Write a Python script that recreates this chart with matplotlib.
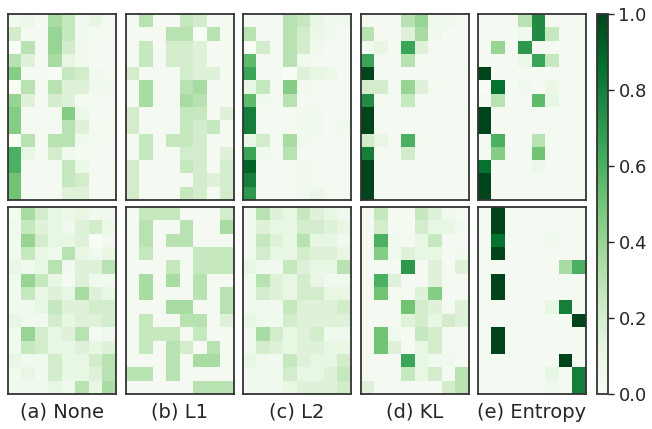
import numpy as np
import matplotlib
matplotlib.use("Agg")
import matplotlib.pyplot as plt

labels = ["(a) None", "(b) L1", "(c) L2", "(d) KL", "(e) Entropy"]
cbar_ticks = [0.0, 0.2, 0.4, 0.6, 0.8, 1.0]

none_top = [
    [0.05, 0.08, 0.02, 0.35, 0.25, 0.05, 0.10, 0.03],
    [0.20, 0.03, 0.02, 0.40, 0.25, 0.05, 0.03, 0.02],
    [0.00, 0.30, 0.02, 0.40, 0.20, 0.05, 0.02, 0.02],
    [0.30, 0.15, 0.02, 0.35, 0.10, 0.05, 0.02, 0.02],
    [0.45, 0.02, 0.02, 0.00, 0.25, 0.20, 0.05, 0.02],
    [0.00, 0.30, 0.02, 0.30, 0.15, 0.15, 0.05, 0.05],
    [0.40, 0.15, 0.02, 0.20, 0.15, 0.03, 0.02, 0.02],
    [0.45, 0.02, 0.02, 0.02, 0.45, 0.08, 0.02, 0.02],
    [0.45, 0.02, 0.02, 0.02, 0.30, 0.15, 0.03, 0.02],
    [0.00, 0.30, 0.02, 0.30, 0.30, 0.05, 0.03, 0.02],
    [0.60, 0.10, 0.02, 0.20, 0.05, 0.03, 0.02, 0.02],
    [0.60, 0.02, 0.02, 0.02, 0.25, 0.08, 0.02, 0.02],
    [0.50, 0.02, 0.02, 0.02, 0.25, 0.20, 0.02, 0.02],
    [0.50, 0.02, 0.02, 0.02, 0.15, 0.15, 0.02, 0.02],
]
l1_top = [
    [0.02, 0.30, 0.02, 0.02, 0.25, 0.20, 0.02, 0.02],
    [0.02, 0.02, 0.02, 0.30, 0.30, 0.00, 0.30, 0.02],
    [0.02, 0.25, 0.02, 0.20, 0.20, 0.15, 0.02, 0.02],
    [0.02, 0.25, 0.02, 0.20, 0.20, 0.15, 0.02, 0.02],
    [0.20, 0.02, 0.02, 0.02, 0.20, 0.15, 0.15, 0.02],
    [0.02, 0.35, 0.02, 0.02, 0.30, 0.35, 0.02, 0.02],
    [0.02, 0.35, 0.02, 0.02, 0.35, 0.30, 0.02, 0.02],
    [0.20, 0.02, 0.02, 0.02, 0.25, 0.25, 0.02, 0.15],
    [0.20, 0.02, 0.02, 0.02, 0.25, 0.20, 0.25, 0.02],
    [0.02, 0.25, 0.02, 0.25, 0.25, 0.20, 0.02, 0.02],
    [0.02, 0.25, 0.02, 0.02, 0.20, 0.20, 0.02, 0.15],
    [0.20, 0.02, 0.02, 0.02, 0.25, 0.20, 0.02, 0.20],
    [0.20, 0.02, 0.02, 0.02, 0.02, 0.20, 0.15, 0.20],
    [0.20, 0.02, 0.02, 0.02, 0.25, 0.20, 0.02, 0.20],
]
l2_top = [
    [0.02, 0.02, 0.02, 0.30, 0.25, 0.10, 0.05, 0.05],
    [0.30, 0.02, 0.02, 0.30, 0.20, 0.08, 0.05, 0.02],
    [0.00, 0.20, 0.02, 0.30, 0.20, 0.05, 0.02, 0.02],
    [0.55, 0.02, 0.02, 0.30, 0.05, 0.02, 0.02, 0.02],
    [0.65, 0.02, 0.02, 0.00, 0.15, 0.10, 0.08, 0.02],
    [0.10, 0.25, 0.02, 0.45, 0.05, 0.02, 0.02, 0.02],
    [0.55, 0.05, 0.02, 0.30, 0.02, 0.02, 0.02, 0.02],
    [0.80, 0.02, 0.02, 0.02, 0.05, 0.05, 0.02, 0.02],
    [0.80, 0.02, 0.02, 0.02, 0.05, 0.05, 0.02, 0.05],
    [0.10, 0.20, 0.02, 0.35, 0.05, 0.02, 0.02, 0.02],
    [0.65, 0.05, 0.02, 0.30, 0.02, 0.02, 0.02, 0.02],
    [0.90, 0.02, 0.02, 0.02, 0.05, 0.02, 0.02, 0.02],
    [0.80, 0.02, 0.02, 0.02, 0.05, 0.02, 0.02, 0.02],
    [0.70, 0.02, 0.02, 0.02, 0.05, 0.08, 0.02, 0.02],
]
kl_top = [
    [0.02, 0.02, 0.02, 0.30, 0.40, 0.05, 0.05, 0.02],
    [0.30, 0.02, 0.02, 0.15, 0.35, 0.05, 0.02, 0.02],
    [0.03, 0.10, 0.02, 0.65, 0.15, 0.02, 0.02, 0.02],
    [0.65, 0.02, 0.02, 0.30, 0.03, 0.02, 0.02, 0.02],
    [1.00, 0.02, 0.02, 0.02, 0.02, 0.02, 0.02, 0.02],
    [0.20, 0.20, 0.02, 0.40, 0.15, 0.03, 0.02, 0.02],
    [0.75, 0.02, 0.02, 0.25, 0.02, 0.02, 0.02, 0.02],
    [1.00, 0.02, 0.02, 0.02, 0.02, 0.02, 0.02, 0.02],
    [1.00, 0.02, 0.02, 0.02, 0.02, 0.02, 0.02, 0.02],
    [0.20, 0.10, 0.02, 0.60, 0.03, 0.02, 0.02, 0.02],
    [0.80, 0.02, 0.02, 0.20, 0.02, 0.02, 0.02, 0.02],
    [1.00, 0.02, 0.02, 0.02, 0.02, 0.02, 0.02, 0.02],
    [1.00, 0.02, 0.02, 0.02, 0.02, 0.02, 0.02, 0.02],
    [1.00, 0.02, 0.02, 0.02, 0.02, 0.02, 0.02, 0.02],
]
ent_top = [
    [0.02, 0.02, 0.02, 0.30, 0.75, 0.02, 0.02, 0.02],
    [0.02, 0.02, 0.02, 0.05, 0.75, 0.25, 0.02, 0.02],
    [0.02, 0.40, 0.02, 0.70, 0.02, 0.02, 0.02, 0.02],
    [0.02, 0.02, 0.02, 0.08, 0.65, 0.25, 0.02, 0.02],
    [1.00, 0.02, 0.02, 0.02, 0.02, 0.02, 0.02, 0.02],
    [0.00, 0.85, 0.02, 0.05, 0.02, 0.08, 0.02, 0.02],
    [0.02, 0.30, 0.02, 0.02, 0.55, 0.10, 0.02, 0.02],
    [1.00, 0.02, 0.02, 0.02, 0.02, 0.02, 0.02, 0.02],
    [1.00, 0.02, 0.02, 0.02, 0.02, 0.02, 0.02, 0.02],
    [0.02, 0.60, 0.02, 0.02, 0.30, 0.03, 0.02, 0.02],
    [0.02, 0.45, 0.02, 0.02, 0.50, 0.02, 0.02, 0.02],
    [0.85, 0.02, 0.02, 0.02, 0.08, 0.02, 0.02, 0.02],
    [1.00, 0.02, 0.02, 0.02, 0.02, 0.02, 0.02, 0.02],
    [1.00, 0.02, 0.02, 0.02, 0.02, 0.02, 0.02, 0.02],
]

none_bot = [
    [0.03, 0.35, 0.20, 0.10, 0.08, 0.10, 0.05, 0.05],
    [0.05, 0.25, 0.15, 0.10, 0.05, 0.15, 0.20, 0.08],
    [0.05, 0.40, 0.20, 0.10, 0.10, 0.15, 0.00, 0.05],
    [0.05, 0.25, 0.10, 0.05, 0.30, 0.10, 0.05, 0.10],
    [0.10, 0.05, 0.10, 0.30, 0.05, 0.15, 0.15, 0.30],
    [0.05, 0.40, 0.25, 0.10, 0.02, 0.15, 0.05, 0.05],
    [0.05, 0.25, 0.10, 0.15, 0.10, 0.35, 0.15, 0.10],
    [0.05, 0.05, 0.10, 0.25, 0.15, 0.15, 0.20, 0.20],
    [0.10, 0.05, 0.05, 0.20, 0.10, 0.15, 0.15, 0.20],
    [0.05, 0.40, 0.20, 0.10, 0.15, 0.30, 0.02, 0.05],
    [0.05, 0.25, 0.20, 0.10, 0.10, 0.15, 0.10, 0.15],
    [0.10, 0.05, 0.05, 0.20, 0.10, 0.10, 0.20, 0.30],
    [0.05, 0.10, 0.05, 0.20, 0.10, 0.10, 0.15, 0.30],
    [0.05, 0.05, 0.05, 0.10, 0.05, 0.30, 0.10, 0.35],
]
l1_bot = [
    [0.02, 0.25, 0.25, 0.25, 0.02, 0.02, 0.02, 0.20],
    [0.02, 0.30, 0.02, 0.02, 0.30, 0.02, 0.02, 0.35],
    [0.02, 0.30, 0.02, 0.30, 0.30, 0.02, 0.02, 0.02],
    [0.02, 0.25, 0.02, 0.02, 0.02, 0.25, 0.25, 0.25],
    [0.02, 0.02, 0.02, 0.25, 0.02, 0.25, 0.25, 0.25],
    [0.02, 0.35, 0.02, 0.35, 0.02, 0.30, 0.02, 0.02],
    [0.02, 0.35, 0.02, 0.02, 0.02, 0.30, 0.02, 0.30],
    [0.02, 0.02, 0.02, 0.35, 0.35, 0.02, 0.02, 0.30],
    [0.02, 0.25, 0.02, 0.02, 0.30, 0.30, 0.02, 0.15],
    [0.02, 0.25, 0.25, 0.25, 0.02, 0.25, 0.02, 0.02],
    [0.02, 0.25, 0.02, 0.30, 0.20, 0.02, 0.30, 0.02],
    [0.02, 0.02, 0.02, 0.30, 0.02, 0.35, 0.35, 0.02],
    [0.30, 0.30, 0.02, 0.30, 0.02, 0.02, 0.02, 0.02],
    [0.02, 0.02, 0.02, 0.02, 0.02, 0.30, 0.30, 0.30],
]
l2_bot = [
    [0.05, 0.30, 0.15, 0.10, 0.25, 0.15, 0.10, 0.05],
    [0.05, 0.15, 0.10, 0.10, 0.20, 0.20, 0.15, 0.10],
    [0.05, 0.25, 0.15, 0.10, 0.30, 0.10, 0.10, 0.05],
    [0.05, 0.20, 0.10, 0.10, 0.20, 0.15, 0.15, 0.10],
    [0.10, 0.05, 0.05, 0.25, 0.15, 0.10, 0.10, 0.30],
    [0.05, 0.30, 0.15, 0.10, 0.20, 0.10, 0.05, 0.05],
    [0.05, 0.20, 0.15, 0.10, 0.20, 0.20, 0.10, 0.10],
    [0.05, 0.05, 0.05, 0.25, 0.15, 0.15, 0.15, 0.20],
    [0.10, 0.05, 0.05, 0.20, 0.15, 0.15, 0.15, 0.15],
    [0.05, 0.35, 0.20, 0.10, 0.15, 0.20, 0.05, 0.05],
    [0.05, 0.20, 0.15, 0.10, 0.15, 0.15, 0.10, 0.10],
    [0.10, 0.05, 0.05, 0.25, 0.15, 0.10, 0.10, 0.20],
    [0.05, 0.05, 0.05, 0.20, 0.10, 0.10, 0.15, 0.25],
    [0.05, 0.05, 0.05, 0.10, 0.15, 0.15, 0.15, 0.20],
]
kl_bot = [
    [0.02, 0.25, 0.02, 0.02, 0.25, 0.15, 0.05, 0.02],
    [0.02, 0.20, 0.02, 0.02, 0.20, 0.10, 0.10, 0.05],
    [0.02, 0.60, 0.05, 0.02, 0.10, 0.25, 0.02, 0.02],
    [0.02, 0.45, 0.05, 0.15, 0.10, 0.10, 0.02, 0.05],
    [0.02, 0.02, 0.02, 0.70, 0.02, 0.15, 0.02, 0.15],
    [0.02, 0.60, 0.15, 0.02, 0.02, 0.15, 0.02, 0.02],
    [0.02, 0.50, 0.02, 0.02, 0.15, 0.45, 0.02, 0.02],
    [0.02, 0.02, 0.02, 0.50, 0.20, 0.15, 0.02, 0.15],
    [0.02, 0.02, 0.02, 0.15, 0.20, 0.10, 0.20, 0.15],
    [0.02, 0.50, 0.05, 0.02, 0.25, 0.20, 0.02, 0.02],
    [0.02, 0.50, 0.15, 0.02, 0.10, 0.20, 0.02, 0.02],
    [0.02, 0.02, 0.02, 0.65, 0.10, 0.05, 0.05, 0.02],
    [0.02, 0.02, 0.02, 0.25, 0.10, 0.20, 0.02, 0.30],
    [0.15, 0.02, 0.02, 0.02, 0.02, 0.02, 0.20, 0.30],
]
ent_bot = [
    [0.02, 1.00, 0.02, 0.02, 0.02, 0.02, 0.02, 0.02],
    [0.02, 1.00, 0.02, 0.02, 0.02, 0.02, 0.02, 0.02],
    [0.02, 0.85, 0.02, 0.02, 0.02, 0.05, 0.02, 0.02],
    [0.02, 1.00, 0.02, 0.02, 0.02, 0.02, 0.02, 0.02],
    [0.02, 0.02, 0.02, 0.02, 0.02, 0.02, 0.35, 0.60],
    [0.02, 1.00, 0.02, 0.02, 0.02, 0.02, 0.02, 0.02],
    [0.02, 1.00, 0.02, 0.02, 0.02, 0.02, 0.02, 0.02],
    [0.02, 0.02, 0.02, 0.02, 0.02, 0.10, 0.80, 0.02],
    [0.02, 0.02, 0.02, 0.02, 0.02, 0.02, 0.02, 1.00],
    [0.02, 1.00, 0.02, 0.02, 0.02, 0.02, 0.02, 0.02],
    [0.02, 1.00, 0.02, 0.02, 0.02, 0.02, 0.02, 0.02],
    [0.02, 0.02, 0.02, 0.02, 0.02, 0.02, 1.00, 0.02],
    [0.02, 0.02, 0.02, 0.02, 0.02, 0.10, 0.02, 0.80],
    [0.02, 0.02, 0.02, 0.02, 0.02, 0.05, 0.02, 0.80],
]

top_row = [none_top, l1_top, l2_top, kl_top, ent_top]
bottom_row = [none_bot, l1_bot, l2_bot, kl_bot, ent_bot]

W, H = 652, 429
fig = plt.figure(figsize=(W / 100, H / 100), dpi=100)
plt.rcParams['font.family'] = ['DejaVu Sans']

lefts = [8, 125.5, 243, 360.5, 478]
pw = 108
rows_y = [(14, 200), (207, 394)]
edge = '#333333'
im = None
for r, data_row in enumerate([top_row, bottom_row]):
    y0, y1 = rows_y[r]
    for c, mat in enumerate(data_row):
        ax = fig.add_axes([lefts[c] / W, 1 - y1 / H, pw / W, (y1 - y0) / H])
        im = ax.imshow(np.array(mat), cmap='Greens', vmin=0, vmax=1,
                       aspect='auto', interpolation='nearest')
        ax.set_xticks([])
        ax.set_yticks([])
        for s in ax.spines.values():
            s.set_color(edge)
            s.set_linewidth(1.3)

for c, lab in enumerate(labels):
    fig.text((lefts[c] + pw / 2) / W, 1 - 412 / H, lab, ha='center',
             va='center', fontsize=14, color='#262626')

cax = fig.add_axes([597 / W, 1 - 394 / H, 11 / W, 380 / H])
cb = fig.colorbar(im, cax=cax, ticks=cbar_ticks)
cb.ax.set_yticklabels([f"{t:.1f}" for t in cbar_ticks])
cb.ax.tick_params(labelsize=13, colors='#262626', length=4, width=1)
cb.outline.set_edgecolor(edge)
cb.outline.set_linewidth(1.3)

fig.savefig("out.png", dpi=100)
